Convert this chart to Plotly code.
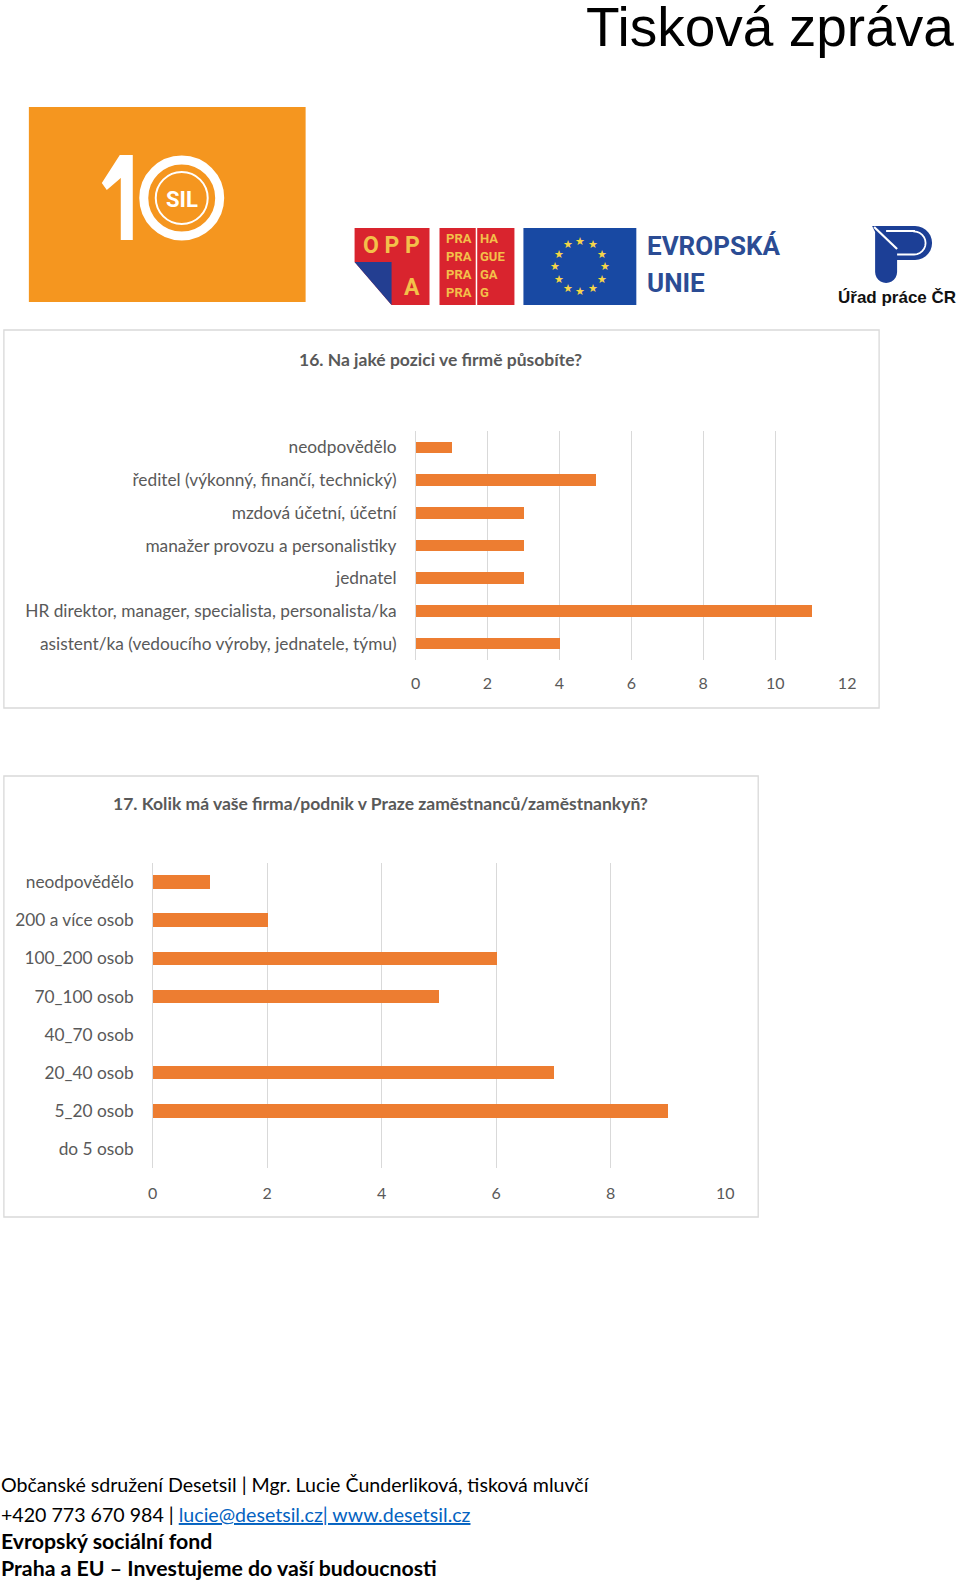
import math
import plotly.graph_objects as go

W, H = 960, 1584

# ---------------- data ----------------
q16_title = "16. Na jaké pozici ve firmě působíte?"
q16_categories = [
    "neodpovědělo",
    "ředitel (výkonný, finančí, technický)",
    "mzdová účetní, účetní",
    "manažer provozu a personalistiky",
    "jednatel",
    "HR direktor, manager, specialista, personalista/ka",
    "asistent/ka (vedoucího výroby, jednatele, týmu)",
]
q16_values = [1, 5, 3, 3, 3, 11, 4]
q16_ticks = [0, 2, 4, 6, 8, 10, 12]

q17_title = "17. Kolik má vaše firma/podnik v Praze zaměstnanců/zaměstnankyň?"
q17_categories = [
    "neodpovědělo",
    "200 a více osob",
    "100_200 osob",
    "70_100 osob",
    "40_70 osob",
    "20_40 osob",
    "5_20 osob",
    "do 5 osob",
]
q17_values = [1, 2, 6, 5, 0, 7, 9, 0]
q17_ticks = [0, 2, 4, 6, 8, 10]

header_text = "Tisková zpráva"
footer_lines = [
    "Občanské sdružení Desetsil | Mgr. Lucie Čunderliková, tisková mluvčí",
    "+420 773 670 984 | ",
    "lucie@desetsil.cz| www.desetsil.cz",
    "Evropský sociální fond",
    "Praha a EU – Investujeme do vaší budoucnosti",
]

# ---------------- helpers (page pixel -> paper) ----------------
# small horizontal correction so that page-pixel targets land where intended
def X(px):
    return (1.0139 * px - 4.17) / W

def Y(py):
    return 1 - py / H

def path(points, close=True):
    s = "M " + " L ".join(f"{X(a):.5f},{Y(b):.5f}" for a, b in points)
    return s + (" Z" if close else "")

def arc(cx, cy, r, a0, a1, n=10):
    pts = []
    for i in range(n + 1):
        a = math.radians(a0 + (a1 - a0) * i / n)
        pts.append((cx + r * math.cos(a), cy + r * math.sin(a)))
    return pts

ORANGE = "#ED7D31"
GRID = "#D9D9D9"
LABEL = "#595959"
FONT = "Lato"

fig = go.Figure()

fig.add_trace(go.Bar(
    x=q16_values, y=q16_categories, orientation="h",
    marker=dict(color=ORANGE, line=dict(width=0)), width=0.355,
    xaxis="x", yaxis="y", hoverinfo="x+y", showlegend=False,
))
fig.add_trace(go.Bar(
    x=q17_values, y=q17_categories, orientation="h",
    marker=dict(color=ORANGE, line=dict(width=0)), width=0.355,
    xaxis="x2", yaxis="y2", hoverinfo="x+y", showlegend=False,
))

label_font = dict(family=FONT, size=17.3, color=LABEL)
tick_font = dict(family=FONT, size=16, color=LABEL)

fig.update_layout(
    width=W, height=H, autosize=False,
    margin=dict(l=0, r=0, t=0, b=0, pad=0),
    paper_bgcolor="white", plot_bgcolor="white",
    font=dict(family=FONT, color=LABEL),
    bargap=0,
    xaxis=dict(domain=[X(415), X(847)], anchor="y", range=[0, 12],
               tickvals=q16_ticks, ticks="", showgrid=True, gridcolor=GRID, gridwidth=1,
               zeroline=True, zerolinecolor=GRID, zerolinewidth=1, showline=False,
               tickfont=tick_font, ticklabelstandoff=12, fixedrange=True),
    yaxis=dict(domain=[Y(660), Y(431)], anchor="x", type="category",
               autorange="reversed", ticks="", showgrid=False, showline=False,
               tickfont=label_font, ticklabelstandoff=18, fixedrange=True),
    xaxis2=dict(domain=[X(152), X(725)], anchor="y2", range=[0, 10],
                tickvals=q17_ticks, ticks="", showgrid=True, gridcolor=GRID, gridwidth=1,
                zeroline=True, zerolinecolor=GRID, zerolinewidth=1, showline=False,
                tickfont=tick_font, ticklabelstandoff=14, fixedrange=True),
    yaxis2=dict(domain=[Y(1168), Y(863)], anchor="x2", type="category",
                autorange="reversed", ticks="", showgrid=False, showline=False,
                tickfont=label_font, ticklabelstandoff=18, fixedrange=True),
)

shapes = []
ann = []

# chart frames
shapes.append(dict(type="rect", xref="paper", yref="paper", x0=X(3), x1=X(879), y0=Y(708), y1=Y(330),
                   line=dict(color=GRID, width=1.3), fillcolor="rgba(0,0,0,0)", layer="below"))
shapes.append(dict(type="rect", xref="paper", yref="paper", x0=X(3), x1=X(758), y0=Y(1217), y1=Y(776),
                   line=dict(color=GRID, width=1.3), fillcolor="rgba(0,0,0,0)", layer="below"))

# chart titles
ann.append(dict(text=f"<b>{q16_title}</b>", x=X(440), y=Y(359), xref="paper", yref="paper",
                showarrow=False, xanchor="center", yanchor="middle",
                font=dict(family=FONT, size=17.5, color=LABEL)))
ann.append(dict(text=f"<b>{q17_title}</b>", x=X(380), y=Y(803), xref="paper", yref="paper",
                showarrow=False, xanchor="center", yanchor="middle",
                font=dict(family=FONT, size=17.5, color=LABEL)))

# header
ann.append(dict(text=header_text, x=X(955), y=Y(27), xref="paper", yref="paper",
                showarrow=False, xanchor="right", yanchor="middle", borderpad=0,
                font=dict(family="Liberation Sans", size=55, color="black")))

# ---------- 10SIL logo ----------
shapes.append(dict(type="rect", xref="paper", yref="paper", x0=X(28), x1=X(305), y0=Y(302), y1=Y(107),
                   line=dict(width=0), fillcolor="#F5961F"))
shapes.append(dict(type="path", xref="paper", yref="paper",
                   path=path([(119, 155), (132, 155), (132, 240), (120, 240), (120, 178),
                              (106, 190), (101, 183)]),
                   line=dict(width=0), fillcolor="white"))
shapes.append(dict(type="circle", xref="paper", yref="paper", x0=X(143), x1=X(219), y0=Y(236), y1=Y(160),
                   line=dict(color="white", width=9), fillcolor="rgba(0,0,0,0)"))
shapes.append(dict(type="circle", xref="paper", yref="paper", x0=X(155), x1=X(207), y0=Y(224), y1=Y(172),
                   line=dict(color="white", width=2), fillcolor="rgba(0,0,0,0)"))
ann.append(dict(text="<b>SIL</b>", x=X(181), y=Y(199), xref="paper", yref="paper", showarrow=False,
                xanchor="center", yanchor="middle",
                font=dict(family="Liberation Sans Narrow, Roboto", size=22, color="white")))

# ---------- OPPA logo ----------
shapes.append(dict(type="path", xref="paper", yref="paper",
                   path=path([(354, 228), (429, 228), (429, 305), (391, 305), (354, 262)]),
                   line=dict(width=0), fillcolor="#D9242E"))
shapes.append(dict(type="path", xref="paper", yref="paper",
                   path=path([(354, 262), (391, 262), (391, 305)]),
                   line=dict(width=0), fillcolor="#233E91"))
ann.append(dict(text="<b>O P P</b>", x=X(391), y=Y(246), xref="paper", yref="paper", showarrow=False,
                xanchor="center", yanchor="middle",
                font=dict(family="Roboto", size=23, color="#F3C04A")))
ann.append(dict(text="<b>A</b>", x=X(411), y=Y(287), xref="paper", yref="paper", showarrow=False,
                xanchor="center", yanchor="middle",
                font=dict(family="Roboto", size=23, color="#F3C04A")))

# ---------- Praha logo ----------
shapes.append(dict(type="rect", xref="paper", yref="paper", x0=X(439), x1=X(514), y0=Y(305), y1=Y(228),
                   line=dict(width=0), fillcolor="#D9242E"))
shapes.append(dict(type="line", xref="paper", yref="paper", x0=X(476), x1=X(476), y0=Y(305), y1=Y(228),
                   line=dict(color="white", width=1.5)))
for i, suf in enumerate(["HA", "GUE", "GA", "G"]):
    yy = 239 + i * 17.8
    ann.append(dict(text="<b>PRA</b>", x=X(474), y=Y(yy), xref="paper", yref="paper", showarrow=False,
                    xanchor="right", yanchor="middle",
                    font=dict(family="Roboto", size=13, color="#F3C04A")))
    ann.append(dict(text=f"<b>{suf}</b>", x=X(478), y=Y(yy), xref="paper", yref="paper", showarrow=False,
                    xanchor="left", yanchor="middle",
                    font=dict(family="Roboto", size=13, color="#F3C04A")))

# ---------- EU flag ----------
shapes.append(dict(type="rect", xref="paper", yref="paper", x0=X(523), x1=X(636), y0=Y(305), y1=Y(228),
                   line=dict(width=0), fillcolor="#1849A3"))
for k in range(12):
    a = math.pi / 2 - k * math.pi / 6
    sx = 580 + 25 * math.cos(a)
    sy = 266.5 - 25 * math.sin(a)
    ann.append(dict(text="★", x=X(sx), y=Y(sy), xref="paper", yref="paper", showarrow=False,
                    xanchor="center", yanchor="middle",
                    font=dict(family="DejaVu Sans", size=11, color="#F5D547")))
ann.append(dict(text="<b>EVROPSKÁ</b>", x=X(645), y=Y(246), xref="paper", yref="paper", showarrow=False,
                xanchor="left", yanchor="middle",
                font=dict(family="Roboto", size=26, color="#2B4C94")))
ann.append(dict(text="<b>UNIE</b>", x=X(645), y=Y(283), xref="paper", yref="paper", showarrow=False,
                xanchor="left", yanchor="middle",
                font=dict(family="Roboto", size=26, color="#2B4C94")))

# ---------- Urad prace logo ----------
up_outline = ([(872, 226), (915, 226)] + arc(915, 243, 17, -90, 90, 14)
              + [(897, 260), (897, 272)] + arc(886, 272, 11, 0, 180, 12) + [(875, 272), (875, 232)])
shapes.append(dict(type="path", xref="paper", yref="paper", path=path(up_outline),
                   line=dict(width=0), fillcolor="#1C3F96"))
shapes.append(dict(type="path", xref="paper", yref="paper",
                   path=path([(874, 227), (897, 249)], close=False),
                   line=dict(color="white", width=2.2)))
inner = [(886, 231), (914, 231)] + arc(914, 243, 11.5, -90, 90, 12) + [(897, 254.5)]
shapes.append(dict(type="path", xref="paper", yref="paper", path=path(inner, close=False),
                   line=dict(color="white", width=1.8)))
ann.append(dict(text="<b>Úřad práce ČR</b>", x=X(958), y=Y(297), xref="paper", yref="paper",
                showarrow=False, xanchor="right", yanchor="middle",
                font=dict(family="Liberation Sans", size=17, color="#111111")))

# ---------- footer ----------
ann.append(dict(text=footer_lines[0], x=X(-2), y=Y(1484), xref="paper", yref="paper", showarrow=False,
                xanchor="left", yanchor="middle", font=dict(family=FONT, size=19.6, color="black")))
ann.append(dict(text=footer_lines[1] + f"<span style='color:#0563C1'><u>{footer_lines[2]}</u></span>",
                x=X(-2), y=Y(1514), xref="paper", yref="paper", showarrow=False,
                xanchor="left", yanchor="middle", font=dict(family=FONT, size=19.6, color="black")))
ann.append(dict(text=f"<b>{footer_lines[3]}</b>", x=X(-2), y=Y(1541), xref="paper", yref="paper",
                showarrow=False, xanchor="left", yanchor="middle",
                font=dict(family=FONT, size=21.3, color="black")))
ann.append(dict(text=f"<b>{footer_lines[4]}</b>", x=X(-2), y=Y(1568), xref="paper", yref="paper",
                showarrow=False, xanchor="left", yanchor="middle",
                font=dict(family=FONT, size=21.3, color="black")))

fig.update_layout(shapes=shapes, annotations=ann)

fig.write_html(
    "out.html",
    config={"displayModeBar": False, "responsive": False},
    post_script="document.documentElement.style.overflow='hidden';"
                "document.body.style.overflow='hidden';document.body.style.margin='0';",
)
